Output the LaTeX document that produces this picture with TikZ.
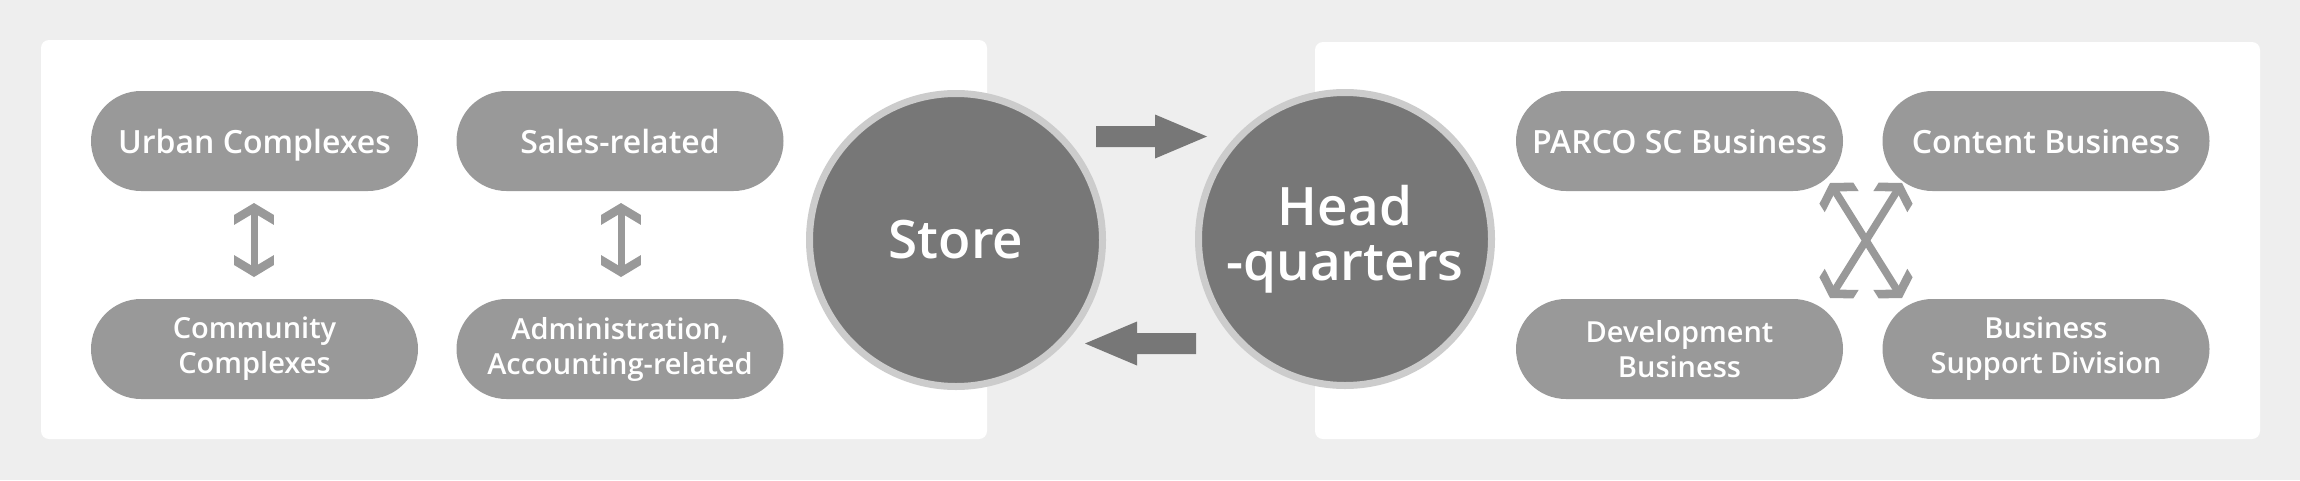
\documentclass[tikz,border=0pt]{standalone}
\usepackage{fontspec}
\IfFontExistsTF{Open Sans SemiBold}{\setmainfont{Open Sans SemiBold}}{%
  \IfFontExistsTF{Open Sans Semibold}{\setmainfont{Open Sans Semibold}}{%
    \IfFontExistsTF{OpenSans-Semibold}{\setmainfont{OpenSans-Semibold}}{\setmainfont{Open Sans}}}}
\usetikzlibrary{calc}
\definecolor{bgc}{HTML}{EEEEEE}
\definecolor{pillc}{HTML}{999999}
\definecolor{circc}{HTML}{777777}
\definecolor{ringc}{HTML}{CCCCCC}
\newcommand{\mydblarrow}[3][7pt]{%
  \fill[pillc] (#2) -- ($(#2)!23.3pt!59:(#3)$) -- ($(#2)!29.7pt!42.3:(#3)$) -- ($(#2)!10pt!(#3)$) -- ($(#2)!29.7pt!-42.3:(#3)$) -- ($(#2)!23.3pt!-59:(#3)$) -- cycle;
  \fill[pillc] (#3) -- ($(#3)!23.3pt!59:(#2)$) -- ($(#3)!29.7pt!42.3:(#2)$) -- ($(#3)!10pt!(#2)$) -- ($(#3)!29.7pt!-42.3:(#2)$) -- ($(#3)!23.3pt!-59:(#2)$) -- cycle;
  \draw[pillc, line width=#1] ($(#2)!6pt!(#3)$) -- ($(#3)!6pt!(#2)$);
}
\newcommand{\mybigarrow}[2]{%
  \coordinate (bh) at ($(#2)!52pt!(#1)$);
  \fill[circc] ($(#1)!10.5pt!90:(#2)$) -- ($(bh)!10.5pt!90:(#2)$) -- ($(bh)!22pt!90:(#2)$) -- (#2) -- ($(bh)!22pt!-90:(#2)$) -- ($(bh)!10.5pt!-90:(#2)$) -- ($(#1)!10.5pt!-90:(#2)$) -- cycle;
}
\begin{document}
\begin{tikzpicture}[x=1pt,y=-1pt,
  pill/.style={rectangle, rounded corners=50pt, fill=pillc, minimum width=327pt, minimum height=100pt, inner sep=0pt, text=white, align=center, font=\fontsize{32}{33}\selectfont, text height=25pt, text depth=0pt},
  pilltwo/.style={rectangle, rounded corners=50pt, fill=pillc, minimum width=327pt, minimum height=100pt, inner sep=0pt, text=white, align=center, font=\fontsize{29}{35}\selectfont},
  bigcirc/.style={circle, minimum size=293pt, inner sep=0pt, fill=circc, draw=ringc, line width=7pt, text=white, align=center, font=\fontsize{53}{55}\selectfont},
  panel/.style={fill=white, rounded corners=8pt}]
\fill[bgc] (0,0) rectangle (2300,480);
\useasboundingbox (0,0) rectangle (2300,480);
\fill[panel] (41,40) rectangle (987,439);
\fill[panel] (1315,42) rectangle (2260,439);

\node[pill] (uc) at (254.5,141) {Urban Complexes};
\node[pill] (sr) at (620,141) {Sales-related};
\node[pilltwo] (cc) at (254.5,349) {Community\\Complexes};
\node[pilltwo] (ad) at (620,349) {Administration,\\Accounting-related};

\node[pill] (pa) at (1679.5,141) {PARCO SC Business};
\node[pill] (cb) at (2046,141) {Content Business};
\node[pilltwo] (db) at (1679.5,349) {Development\\Business};
\node[pilltwo] (bs) at (2046,349) {Business\\Support Division};

\node[bigcirc] (st) at (956,240) {Store};
\node[bigcirc] (hq) at (1345,239) {Head\\-quarters};

\coordinate (a1) at (254,203); \coordinate (a2) at (254,277);
\coordinate (b1) at (621,203); \coordinate (b2) at (621,277);
\mydblarrow{a1}{a2}
\mydblarrow{b1}{b2}

\coordinate (x1) at (1830,183); \coordinate (x2) at (1902,298);
\coordinate (y1) at (1902,183); \coordinate (y2) at (1830,298);
\mydblarrow[7.5pt]{x1}{x2}
\mydblarrow[7.5pt]{y1}{y2}

\coordinate (r1) at (1096,136.5); \coordinate (r2) at (1207,136.5);
\coordinate (l1) at (1196,343.5); \coordinate (l2) at (1085,343.5);
\mybigarrow{r1}{r2}
\mybigarrow{l1}{l2}
\end{tikzpicture}
\end{document}
